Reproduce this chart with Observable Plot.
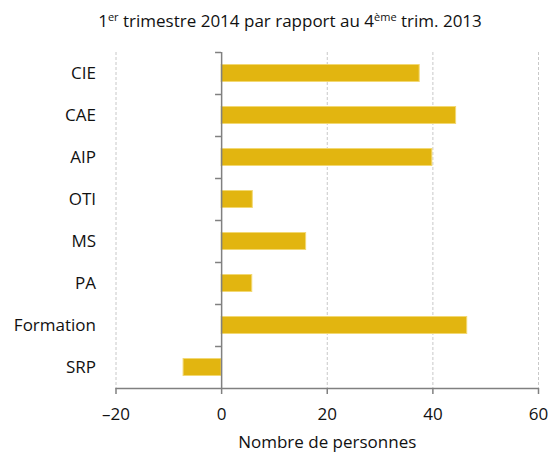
<!DOCTYPE html>
<html><head><meta charset="utf-8">
<script src="https://cdn.jsdelivr.net/npm/d3@7"></script>
<script src="https://cdn.jsdelivr.net/npm/@observablehq/plot@0.6"></script>
<style>
body{margin:0;background:#fff;font-family:"Open Sans",sans-serif;color:#111;}
#title{width:520px;padding-left:30px;height:42px;line-height:42px;text-align:center;font-size:17px;}
#title sup{font-size:11px;vertical-align:6px;line-height:0;}
</style></head><body>
<div id="title">1<sup>er</sup> trimestre 2014 par rapport au 4<sup>ème</sup> trim. 2013</div>
<div id="chart"></div>
<script>
const categories = ["CIE","CAE","AIP","OTI","MS","PA","Formation","SRP"];
const values = [37.5, 44.4, 39.9, 5.9, 16.0, 5.8, 46.5, -7.2];
const xTicks = [-20, 0, 20, 40, 60];
const gridTicks = [-20, 20, 40, 60];
const xLabel = "Nombre de personnes";

const data = categories.map((c, i) => ({cat: c, v: values[i]}));
const step = (412 - 10 - 66) / categories.length;

const chart = Plot.plot({
  width: 550, height: 412,
  marginTop: 10, marginBottom: 66, marginLeft: 115.5, marginRight: 12,
  style: {fontFamily: "Open Sans, sans-serif", fontSize: "17px", color: "#111"},
  x: {domain: [-20, 60]},
  y: {domain: categories, padding: 0},
  marks: [
    Plot.ruleX(gridTicks, {stroke: "#c8c8c8", strokeWidth: 1, strokeDasharray: "3,2"}),
    Plot.barX(data, {x: d => d.v, y: "cat", fill: "#E2B510", stroke: "#F2D873", strokeWidth: 1, insetTop: 12.5, insetBottom: 12.5}),
    Plot.ruleX([0], {stroke: "#808080", strokeWidth: 1.5}),
    Plot.ruleY(categories, {y: d => d, x1: -1.15, x2: 0, dy: -step / 2, stroke: "#808080", strokeWidth: 1.5}),
    Plot.ruleY(categories.slice(-1), {y: d => d, x1: -20, x2: 60, dy: step / 2, stroke: "#808080", strokeWidth: 1.5}),
    Plot.axisX({ticks: xTicks, tickSize: 6, tickPadding: 13, stroke: "#808080", strokeWidth: 1.5, label: null, tickFormat: d => d < 0 ? "\u2013" + Math.abs(d) : String(d), fill: "#111"}),
    Plot.axisY({anchor: "left", tickSize: 0, tickPadding: 20, label: null, fill: "#111"}),
    Plot.text([xLabel], {frameAnchor: "bottom", dy: 47, lineAnchor: "top", fontSize: 17, fill: "#111"})
  ]
});
document.getElementById("chart").appendChild(chart);
</script>
</body></html>
